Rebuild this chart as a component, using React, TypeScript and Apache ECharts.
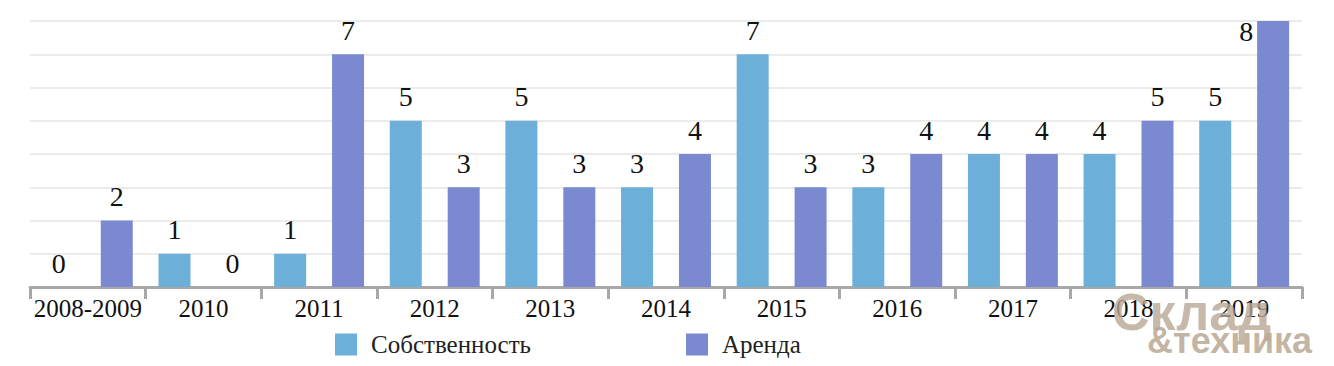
import React, { useEffect, useRef } from "react";
import * as echarts from "echarts";

const categories = ["2008-2009", "2010", "2011", "2012", "2013", "2014", "2015", "2016", "2017", "2018", "2019"];
const ownValues = [0, 1, 1, 5, 5, 3, 7, 3, 4, 4, 5];
const rentValues = [2, 0, 7, 3, 3, 4, 3, 4, 4, 5, 8];
const seriesNames = ["Собственность", "Аренда"];

const OWN_COLOR = "#6cb0da";
const RENT_COLOR = "#7b89d1";
const SERIF = "'Liberation Serif', 'DejaVu Serif', serif";
const SANS = "'Liberation Sans', Arial, sans-serif";

export default function App() {
  const ref = useRef<HTMLDivElement>(null);
  useEffect(() => {
    if (!ref.current) return;
    const chart = echarts.init(ref.current, undefined, { renderer: "svg" });
    const baseLabel = {
      show: true,
      position: "top",
      distance: 10,
      fontFamily: SERIF,
      fontSize: 28,
      color: "#111",
    };
    const lastIndex = rentValues.length - 1;
    const rentData = rentValues.map((v, i) =>
      i === lastIndex
        ? { value: v, label: { position: [-4, -4], align: "right", verticalAlign: "top" } }
        : v
    );
    chart.setOption({
      animation: false,
      backgroundColor: "#ffffff",
      grid: { left: 30, right: 32, top: 21, bottom: 79, containLabel: false },
      legend: {
        left: 335,
        top: 332,
        padding: 0,
        itemWidth: 22,
        itemHeight: 22,
        itemGap: 155,
        icon: "rect",
        textStyle: { fontFamily: SERIF, fontSize: 25, color: "#222", padding: [0, 0, 0, 9] },
        data: seriesNames,
      },
      xAxis: {
        type: "category",
        data: categories,
        boundaryGap: true,
        axisLine: { lineStyle: { color: "#a8a8a8", width: 3 } },
        axisTick: { show: true, length: 12, lineStyle: { color: "#a8a8a8", width: 3 } },
        axisLabel: { fontFamily: SERIF, fontSize: 25, color: "#111", margin: 9, interval: 0 },
      },
      yAxis: {
        type: "value",
        min: 0,
        max: 8,
        interval: 1,
        axisLabel: { show: false },
        axisLine: { show: false },
        axisTick: { show: false },
        splitLine: { lineStyle: { color: "#ebebeb", width: 2 } },
      },
      series: [
        {
          name: seriesNames[0],
          type: "bar",
          data: ownValues,
          barWidth: 32,
          barGap: "81%",
          itemStyle: { color: OWN_COLOR },
          label: baseLabel,
        },
        {
          name: seriesNames[1],
          type: "bar",
          data: rentData,
          barWidth: 32,
          barGap: "81%",
          itemStyle: { color: RENT_COLOR },
          label: baseLabel,
        },
      ],
      graphic: [
        {
          type: "text",
          left: 1112,
          top: 286,
          z: 100,
          style: {
            text: "Склад",
            fontFamily: SANS,
            fontWeight: "bold",
            fontSize: 52,
            fill: "rgba(185,168,148,0.8)",
          },
        },
        {
          type: "text",
          left: 1147,
          top: 322,
          z: 100,
          style: {
            text: "&техника",
            fontFamily: SANS,
            fontWeight: "bold",
            fontSize: 36,
            fill: "rgba(185,168,148,0.85)",
          },
        },
      ],
    });
    return () => chart.dispose();
  }, []);
  return <div ref={ref} style={{ width: 1334, height: 366, position: "absolute", left: 0, top: 0 }} />;
}
